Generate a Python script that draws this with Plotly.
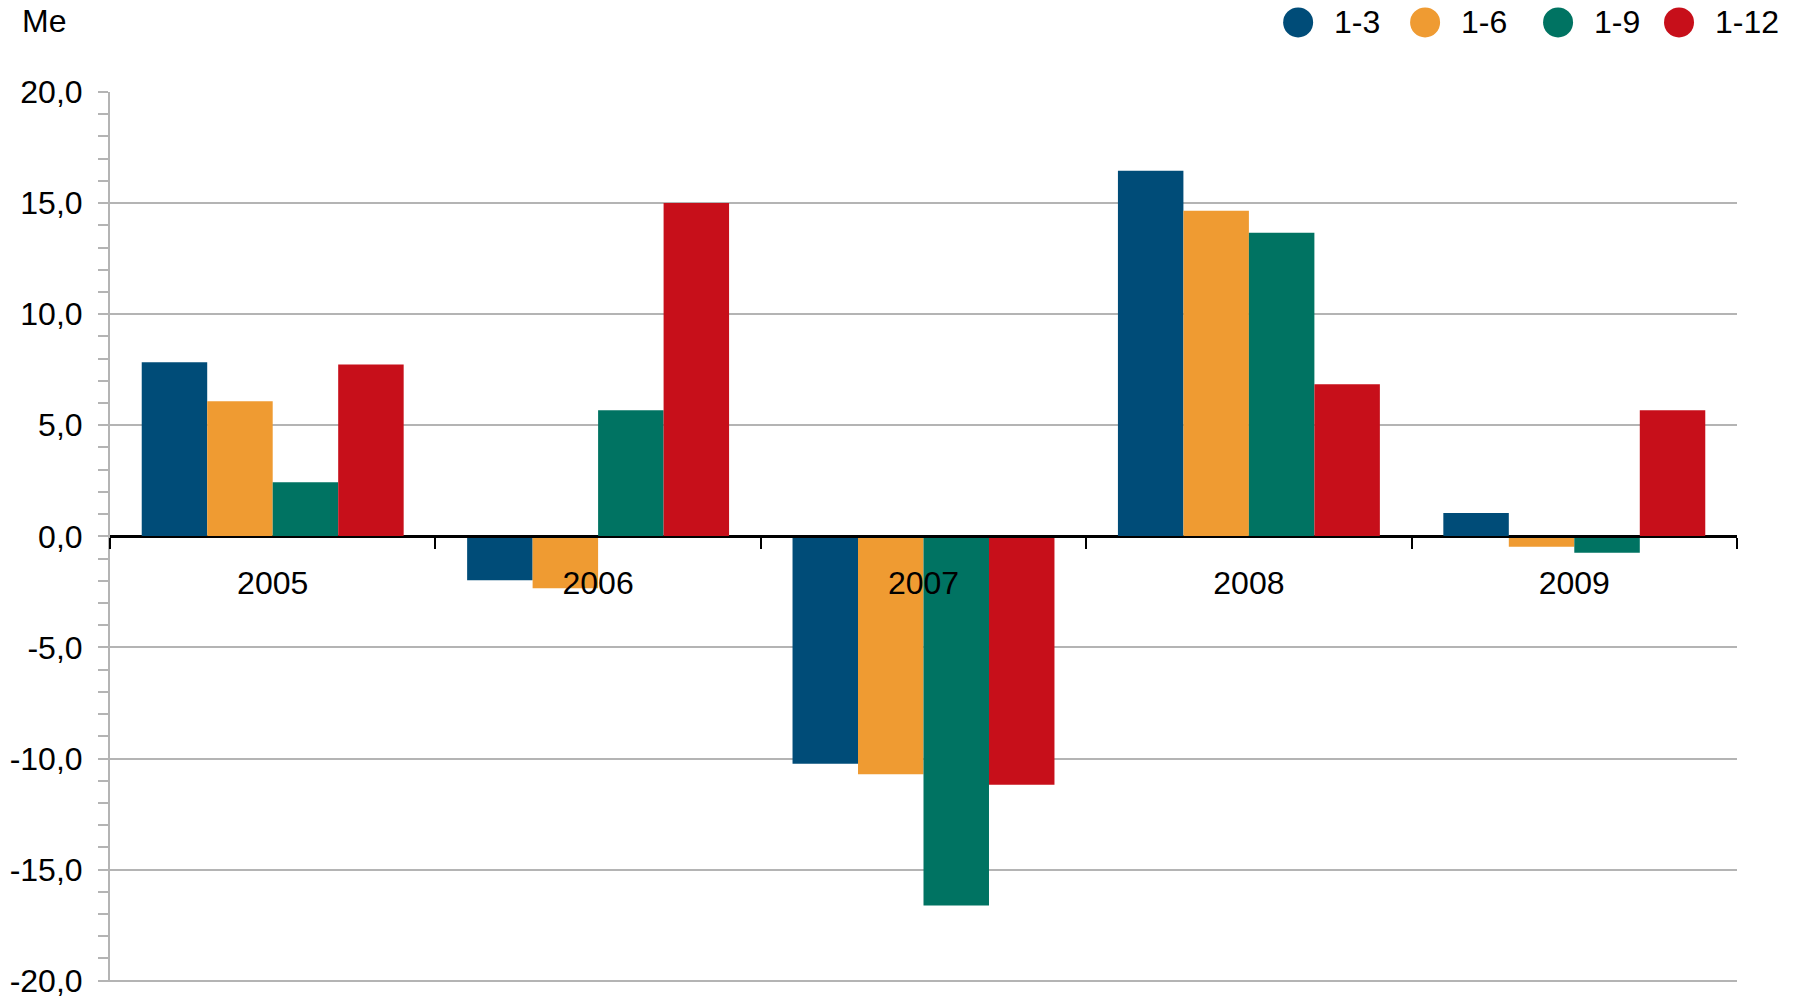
import plotly.graph_objects as go

years = ["2005", "2006", "2007", "2008", "2009"]
series_names = ["1-3", "1-6", "1-9", "1-12"]
s_1_3 = [7.84, -1.98, -10.24, 16.46, 1.05]
s_1_6 = [6.08, -2.34, -10.71, 14.65, -0.47]
s_1_9 = [2.43, 5.67, -16.62, 13.67, -0.74]
s_1_12 = [7.74, 15.0, -11.18, 6.85, 5.67]
colors = ["#004C78", "#EF9B32", "#007362", "#C70F1A"]
values = [s_1_3, s_1_6, s_1_9, s_1_12]
y_ticks = [-20, -15, -10, -5, 0, 5, 10, 15, 20]
y_ticktext = [f"{v:.1f}".replace(".", ",") for v in y_ticks]

W, H = 1805, 997
L, R, T, B = 109.5, 68, 92, 15.3
pw, ph = W - L - R, H - T - B
FONT = "Liberation Sans, Arial, sans-serif"
FS = 32

fig = go.Figure()
for name, vals, c in zip(series_names, values, colors):
    fig.add_trace(go.Bar(x=years, y=vals, name=name, marker=dict(color=c, line=dict(width=0)),
                         showlegend=False))

def px2paper(px, py):
    return (px - L) / pw, (H - B - py) / ph

# manual legend: circle centre x positions (pixels) and y
leg_cx = [1298, 1425, 1558, 1679]
leg_cy = 22.5
shapes = []
annotations = []
for name, c, cx in zip(series_names, colors, leg_cx):
    xp, yp = px2paper(cx, leg_cy)
    shapes.append(dict(type="circle", xref="paper", yref="paper", xsizemode="pixel", ysizemode="pixel",
                       xanchor=xp, yanchor=yp, x0=-15, x1=15, y0=-15, y1=15,
                       fillcolor=c, line=dict(width=0)))
    annotations.append(dict(text=name, xref="paper", yref="paper", x=xp, y=yp, xshift=34,
                            xanchor="left", yanchor="middle", showarrow=False,
                            font=dict(size=FS, color="#000000", family=FONT)))
mx, my = px2paper(19, 21)
annotations.append(dict(text="Me", xref="paper", yref="paper", x=mx, y=my, xanchor="left",
                        yanchor="middle", showarrow=False, font=dict(size=FS, color="#000000", family=FONT)))

fig.update_layout(
    template="none",
    width=W, height=H, autosize=False,
    margin=dict(l=L, r=R, t=T, b=B, pad=0),
    paper_bgcolor="white", plot_bgcolor="white",
    barmode="group", bargap=0.195, bargroupgap=0,
    font=dict(family=FONT, size=FS, color="#000000"),
    shapes=shapes, annotations=annotations,
    showlegend=False,
)
fig.update_xaxes(
    type="category", anchor="free", position=0.5, automargin=False,
    showline=True, linecolor="#000000", linewidth=2,
    ticks="outside", tickson="boundaries", ticklen=11, tickwidth=2, tickcolor="#000000",
    showgrid=False, zeroline=False, tickfont=dict(size=FS, color="#000000", family=FONT),
    ticklabelstandoff=18,
)
fig.update_yaxes(
    range=[-20.06, 20], tickvals=y_ticks, ticktext=y_ticktext, automargin=False,
    showline=True, linecolor="#B4B4B4", linewidth=2,
    showgrid=True, gridcolor="#B4B4B4", gridwidth=1.5,
    zeroline=True, zerolinecolor="#000000", zerolinewidth=2,
    ticks="outside", ticklen=10, tickwidth=1.5, tickcolor="#B4B4B4",
    minor=dict(dtick=1, tick0=0, ticks="outside", ticklen=10, tickwidth=1.5, tickcolor="#B4B4B4", showgrid=False),
    tickfont=dict(size=FS, color="#000000", family=FONT),
    ticklabelstandoff=9, ticklabeloverflow="allow",
)

fig.write_html("out.html", config={"displayModeBar": False},
               post_script="document.body.style.margin='0';document.body.style.overflow='hidden';")
